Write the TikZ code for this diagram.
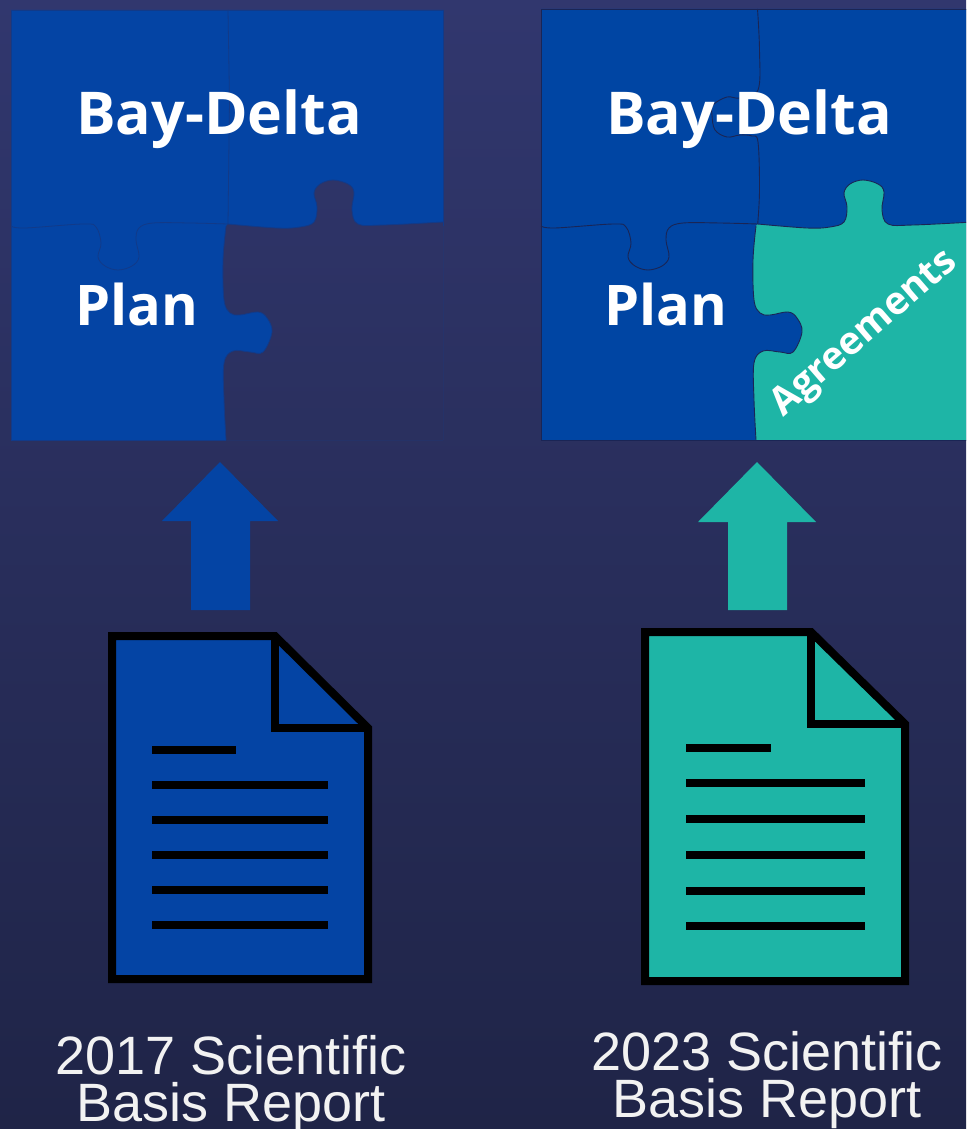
\documentclass[tikz,border=0pt]{standalone}
\usepackage{fontspec}
\setmainfont{Open Sans}
\newfontfamily\capfont{Liberation Sans}
\definecolor{bgtop}{HTML}{31376E}
\definecolor{bgbot}{HTML}{1F2447}
\definecolor{puzblue}{HTML}{0045A3}
\definecolor{puzblur}{HTML}{0444A4}
\definecolor{seamdark}{HTML}{1A2555}
\definecolor{seamfaint}{HTML}{123A88}
\definecolor{teal}{HTML}{1EB5A6}
\def\seamVtopTab{(757.5,9) (759.5,50) (758,90) (740,98) (727,97) (713,105) (712,115) (715,130) (727,137) (740,135) (752,136) (758,142) (759.5,190) (757.7,224)}
\def\seamHleft{(541,226) (555,228) (613,224) (626,227) (631,243) (628,257) (635,266) (648,270) (662,266) (669,257) (666,240) (669,228) (683,223) (720,223) (757.7,224)}
\def\seamVlow{(756,440) (754,400) (754,363) (763,351) (780,352) (793,352) (802,332) (797,318) (788,312) (770,315) (760,313) (754,300) (753,260) (756,226)}
\def\seamHright{(757.7,224) (807,228) (830,227) (844,222) (847,207) (844,193) (850,184) (863,180) (878,184) (884,192) (882,210) (888,224) (913,225) (973,222)}
\tikzset{
  bluepiece/.style={even odd rule},
  smoothseam/.style={smooth,tension=0.6},
  docbody/.style={draw=black,line width=8pt,line join=miter},
  docline/.style={draw=black,line width=8pt},
  puzzlelabel/.style={text=white,font=\fontsize{59}{60}\selectfont\bfseries,anchor=base west,inner sep=0pt},
  planlabel/.style={text=white,font=\fontsize{56}{60}\selectfont\bfseries,anchor=base west,inner sep=0pt},
  caplabel/.style={text=white!95!black,font=\capfont\fontsize{54}{47}\selectfont,align=center,inner sep=0pt,anchor=center},
}
\begin{document}
\begin{tikzpicture}[x=1pt,y=-1pt]
\useasboundingbox (0,0) rectangle (966,1129);
\shade[top color=bgtop,bottom color=bgbot] (0,0) rectangle (966,1129);
% left puzzle
\begin{scope}[xshift=-530pt]
\fill[puzblur,bluepiece] (541,10) rectangle (973,440)
  plot[smoothseam] coordinates {\seamVlow} -- plot[smoothseam] coordinates {\seamHright} -- (973,440) -- cycle;
\draw[seamfaint,line width=0.8pt] (541,226) -- (541,10) -- (973,10) -- (973,226);
\draw[seamfaint,line width=0.8pt] (758,10) -- (759.5,100) -- (758,224);
\draw[seamfaint,line width=0.8pt] plot[smoothseam] coordinates {\seamHleft};
\draw[seamfaint,line width=0.8pt] plot[smoothseam] coordinates {\seamVlow};
\draw[seamfaint,line width=0.8pt] plot[smoothseam] coordinates {\seamHright};
\draw[seamfaint,line width=0.8pt] (541,226) -- (541,440) -- (756,440);
\end{scope}
% right puzzle
\begin{scope}
\clip (0,0) rectangle (966,1129);
\fill[puzblue,bluepiece] (541,9) rectangle (973,440)
  plot[smoothseam] coordinates {\seamVlow} -- plot[smoothseam] coordinates {\seamHright} -- (973,440) -- cycle;
\fill[teal] plot[smoothseam] coordinates {\seamVlow} -- plot[smoothseam] coordinates {\seamHright} -- (973,440) -- cycle;
\draw[seamdark,line width=0.9pt] (973,9) -- (541,9) -- (541,440) -- (973,440);
\draw[seamdark,line width=0.9pt] plot[smoothseam] coordinates {\seamVtopTab};
\draw[seamdark,line width=0.9pt] plot[smoothseam] coordinates {\seamHleft};
\draw[seamdark,line width=0.9pt] plot[smoothseam] coordinates {\seamVlow};
\draw[seamdark,line width=0.9pt] plot[smoothseam] coordinates {\seamHright};
\end{scope}
% puzzle labels
\node[puzzlelabel] (bd1) at (76,135) {Bay-Delta};
\node[planlabel] (pl1) at (75,325) {Plan};
\node[puzzlelabel] (bd2) at (606,135) {Bay-Delta};
\node[planlabel] (pl2) at (604,325) {Plan};
\node[text=white,font=\fontsize{38.5}{44}\selectfont\bfseries,rotate=41,anchor=base,inner sep=0pt] (agr) at (871,341) {Agreements};
% arrows
\fill[puzblur] (220,462) -- (278,521) -- (250,521) -- (250,610) -- (191,610) -- (191,521) -- (162,521) -- cycle;
\fill[teal] (757,462) -- (816,522) -- (787,522) -- (787,610) -- (728,610) -- (728,522) -- (698,522) -- cycle;
% left document
\path[docbody,fill=puzblur] (112,636) -- (275,636) -- (368,728) -- (368,979) -- (112,979) -- cycle;
\path[docbody] (275,636) -- (275,728) -- (368,728);
\draw[docline] (152,750) -- (236,750);
\foreach \yy in {785,820,855,890,925} \draw[docline] (152,\yy) -- (328,\yy);
% right document
\path[docbody,fill=teal] (645,632) -- (811,632) -- (905,724) -- (905,981) -- (645,981) -- cycle;
\path[docbody] (811,632) -- (811,724) -- (905,724);
\draw[docline] (686,748) -- (771,748);
\foreach \yy in {783,819,855,891,926} \draw[docline] (686,\yy) -- (865,\yy);
% captions
\node[caplabel] (cap1) at (231,1084) {2017 Scientific\\Basis Report};
\node[caplabel] (cap2) at (767,1080) {2023 Scientific\\Basis Report};
\end{tikzpicture}
\end{document}
